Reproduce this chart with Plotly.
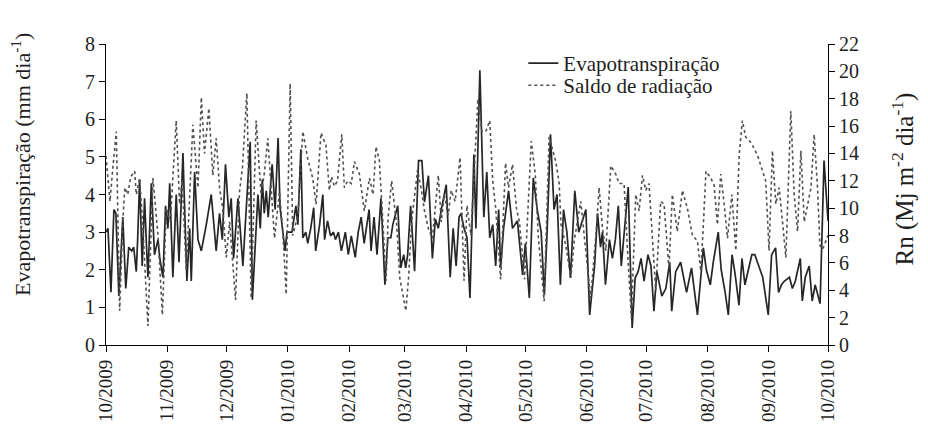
import pandas as pd
import plotly.graph_objects as go

# ---- data (day offsets from 01/10/2009) ----
inicio = "2009-10-01"

dias_et = [0, 1, 2.5, 4, 5, 6.5, 8.5, 10, 11.5, 13, 14, 15.3, 16, 17, 18.3, 19.5, 20.5, 21.2, 22.9, 24.5,
           26.3, 27.2, 28.8, 30.1, 31.3, 32.2, 33.8, 35.5, 36.9, 38.9, 40.9, 42.3, 43.1, 44.8, 46.5, 48.2,
           50.7, 53.2, 55.7, 57.4, 58.8, 60.4, 62.1, 63.3, 64.5, 66.7, 69.2, 71.2, 72.9, 74,
           76.8, 78, 79, 80, 81, 82, 84, 85.5, 87, 88, 90.5, 91.5, 94, 96, 97, 98.5, 99.5, 101, 102,
           103.5, 105, 106, 108, 109.6, 110.5, 112, 113.5, 115, 116, 117.5, 119, 121, 122.5, 124, 126,
           127.5, 129, 130.5, 133, 134, 135.5, 137, 139, 141, 142.5, 144,
           145, 147.5, 149, 150.5, 151.5, 152.5, 154, 156, 158, 159.7, 161, 163, 165, 166.5, 168, 169.5,
           172, 174, 175.5, 177, 178.5, 179.5, 181, 182.5, 184, 186, 187, 189, 191, 192.5, 194, 195.5,
           197, 198.5, 199.5, 201, 203.5, 205.5, 208, 210.6, 212, 214, 216, 218,
           220, 221.6, 223, 224.7, 226.5, 228, 229.7, 231.3, 233, 234.8, 237, 239, 240.8, 242.6, 244.5,
           246, 247, 248.5, 250, 251, 252.5, 254.5, 256, 257.5, 259, 260.5, 262, 264, 266, 267.5, 269,
           270.5, 272, 274, 275.5, 277, 278.5, 281, 283, 285, 286, 288, 290.5,
           293.5, 296, 298, 299, 302, 303.5, 305.5, 307, 309.5, 311, 313, 314.6, 316.5, 318, 320, 321.5,
           323, 325, 326.5, 328, 330.5, 332, 334.8, 336.5, 338.5, 340, 341.5, 343, 345.5, 347, 348.5,
           351, 352, 353.5, 355.5, 357, 358.5, 361, 363, 365]
et = [3.0, 3.1, 1.4, 3.6, 3.5, 1.3, 3.4, 1.5, 2.6, 2.5, 2.6, 1.95, 2.8, 4.4, 2.1, 3.9, 2.6, 1.8, 4.3, 2.4,
      2.8, 2.3, 1.8, 3.7, 3.1, 4.3, 1.8, 4.0, 2.2, 5.1, 1.7, 3.1, 1.7, 4.6, 2.8, 2.5,
      3.2, 4.0, 2.5, 3.5, 2.8, 4.8, 3.4, 3.9, 2.3, 3.9, 2.1, 3.9, 5.4, 1.2,
      4.0, 3.1, 4.4, 3.5, 4.1, 3.4, 4.8, 3.6, 5.5, 3.65, 2.5, 3.0, 3.0, 3.7, 3.2, 5.2, 2.85, 3.0, 2.7,
      3.1, 3.65, 2.5, 3.2, 4.0, 2.8, 3.3, 2.9, 3.0, 2.8, 3.0, 2.5, 3.0, 2.4, 2.9, 2.33,
      3.0, 3.4, 2.7, 3.6, 2.5, 3.4, 2.4, 3.9, 1.6, 2.85, 2.85,
      3.2, 3.7, 2.05, 2.4, 2.05, 2.4, 3.7, 1.96, 4.9, 4.9, 3.8, 4.5, 2.3, 3.35, 3.1, 3.6,
      4.26, 1.8, 3.1, 2.1, 3.4, 3.5, 3.1, 2.85, 1.25, 5.06, 3.1, 7.3, 3.4, 4.6, 2.85, 3.2,
      2.1, 3.6, 2.05, 3.1, 4.1, 3.1, 3.3, 1.86, 2.7, 1.25, 4.44, 3.6,
      3.0, 1.33, 3.0, 5.6, 3.6, 4.0, 1.6, 3.6, 3.0, 1.78, 4.1, 3.0, 3.3, 3.6, 0.8,
      1.7, 2.1, 3.5, 2.6, 3.0, 1.6, 2.8, 2.3, 2.8, 3.7, 2.1, 3.0, 4.2, 0.45, 1.78, 1.95,
      2.3, 1.7, 2.4, 2.1, 0.9, 1.95, 1.3, 1.5, 2.2, 0.9, 1.95, 2.2,
      1.4, 2.05, 1.17, 0.8, 2.58, 2.0, 1.6, 2.2, 3.0, 2.0, 1.4, 0.8, 2.4, 1.9, 1.06, 2.3,
      1.6, 2.1, 2.4, 2.4, 2.0, 1.8, 0.8, 2.4, 2.58, 1.4, 1.6, 1.7, 1.8, 1.5, 1.7,
      2.3, 1.17, 1.8, 2.1, 1.17, 1.6, 1.1, 4.9, 3.3]

dias_rn = [0, 1, 2, 3.5, 5.2, 6.9, 8.5, 9.5, 11, 12.5, 14.5, 15.3, 17, 18.5, 21.2, 23.7, 26.3, 28.5, 30.5,
           32.5, 35.5, 37.2, 38.5, 40.6, 43.9, 46.5, 48.2, 49.8, 52, 54, 55.7, 57.4, 59, 60.8, 62.5,
           65.5, 67.5, 69, 71.2, 73.4,
           75.9, 78.4, 80, 81.8, 83.5, 85.2, 87.7, 89.5, 91.1, 93.1, 94.4, 97, 99.5, 102, 104.5, 106.2,
           108.7, 111.2, 112.9, 114, 115.5, 117, 119.2, 120.5, 122.2, 124, 125.6, 127, 128.1, 130.6,
           133.2, 135, 136.5, 138.2, 140, 141.6, 142.6, 144.4,
           147, 148.5, 151.6, 153, 154.5, 157.5, 159.5, 161, 163, 165, 168, 169.5, 171, 173, 174.5,
           176.5, 179, 181, 182.5, 184.5, 188, 190, 192, 194, 195.5, 197, 199.5, 202, 203.5, 205.5,
           207.5, 209, 211.6, 215, 217, 218.5, 221.5, 224,
           227.4, 229.1, 230, 232.4, 235, 236.7, 240, 243.4, 245, 247.6, 249.3, 251, 252.7, 255.2,
           257.7, 259.4, 261.9, 264, 265.6, 267.8, 269.5, 271.2, 272.9, 274.5, 276.2, 277.9, 280.4,
           282.1, 284.6, 286.3, 288.8, 291.4,
           293.9, 296.5, 299, 300.7, 301.9, 303.3, 305.7, 307.4, 309.1, 310.8, 312.5, 314.2, 316.4,
           318.4, 320.1, 321.7, 323.4, 326, 329.3, 331.8, 333.5, 335.2, 336.9, 338.6, 340.3, 342,
           343.7, 346.2, 347.9, 349.6, 351.3, 353, 354.7, 356.4, 358, 359.7, 360.9, 362.3, 365]
rn = [13.8, 12, 10.5, 13, 15.6, 2.5, 9, 11.5, 11, 12.3, 12.7, 11, 12.2, 9, 1.4, 12.2, 8, 2.2, 10,
      9, 16.4, 10.3, 12, 5.4, 16.1, 11.5, 18.1, 14, 17.3, 12.4, 15.1, 11.5, 10, 6.4, 9,
      3.3, 11.2, 13, 18.4, 3.4,
      16.4, 11, 12.5, 15.1, 11, 7.8, 11.2, 8, 3.7, 19.1, 8, 9.5, 15.6, 13.6, 12.2, 10.3,
      15.5, 14.6, 11.3, 12.3, 11.6, 12, 15.4, 11.5, 12, 11.8, 13.4, 12.8, 12.5, 9.8,
      12.2, 11, 14.5, 13.5, 9, 4.7, 9.3, 12,
      8.7, 4.9, 2.5, 5, 9, 12.8, 11.3, 9.8, 8.5, 7.8, 12.4, 9, 11, 9.5, 11.3,
      10.5, 13.7, 4.7, 10.2, 8, 18, 15.6, 15.6, 16.4, 12, 10, 4.8, 13.3, 11.5, 13.2,
      10, 9, 4.8, 14.9, 12.5, 8, 3.2, 15.2,
      13.4, 11.8, 8.8, 7.3, 4.9, 7.6, 10.5, 5.4, 3.4, 7.9, 11.5, 8.5, 6.9, 13.1,
      12.5, 11.8, 11.8, 6, 2, 11, 9.8, 12.4, 11.3, 11.8, 7.8, 4, 10.5,
      10.3, 5.6, 11, 8.3, 11.3,
      10, 8, 7.6, 5.4, 8.5, 12.7, 12.2, 11.7, 8.8, 12.5, 10.3, 7.8, 11,
      6.9, 13.9, 16.4, 15.2, 14.8, 13.9, 12.7, 12, 6.9, 14.2, 10.3, 11.5, 9,
      6.4, 17.1, 11, 8.3, 14.2, 9, 10.3, 11.5, 15.4, 11.5, 7.3, 7, 8]

meses = ["2009-10-01", "2009-11-01", "2009-12-01", "2010-01-01", "2010-02-01", "2010-03-01",
         "2010-04-01", "2010-05-01", "2010-06-01", "2010-07-01", "2010-08-01", "2010-09-01",
         "2010-10-01"]
rotulos = ["10/2009", "11/2009", "12/2009", "01/2010", "02/2010", "03/2010", "04/2010",
           "05/2010", "06/2010", "07/2010", "08/2010", "09/2010", "10/2010"]

base = pd.Timestamp(inicio)
x_et = [base + pd.to_timedelta(d, unit="D") for d in dias_et]
x_rn = [base + pd.to_timedelta(d, unit="D") for d in dias_rn]

FONT = "Liberation Serif"
TXT = "#1e1e1e"

fig = go.Figure()
fig.add_trace(go.Scatter(x=x_et, y=et, name="Evapotranspiração", mode="lines", legend="legend",
                         line=dict(color="#262626", width=1.7)))
fig.add_trace(go.Scatter(x=x_rn, y=rn, name="Saldo de radiação", mode="lines", yaxis="y2",
                         legend="legend2",
                         line=dict(color="#505050", width=1.6, dash="dot")))

def axis_common(size):
    return dict(showline=True, linecolor="black", linewidth=1.2, ticks="outside",
                ticklen=6, tickcolor="black", tickwidth=1.2, showgrid=False, zeroline=False,
                tickfont=dict(family=FONT, size=size, color=TXT))

legend_common = dict(xanchor="left", yanchor="middle", bgcolor="rgba(0,0,0,0)",
                     font=dict(family=FONT, size=21, color=TXT), itemwidth=30)

fig.update_layout(
    width=928, height=447,
    margin=dict(l=98, r=108, t=36, b=110),
    paper_bgcolor="white", plot_bgcolor="white",
    font=dict(family=FONT, color=TXT),
    showlegend=True,
    legend=dict(x=0.578, y=0.935, **legend_common),
    legend2=dict(x=0.578, y=0.862, **legend_common),
    xaxis=dict(type="date", range=[meses[0], meses[-1]], tickvals=meses, ticktext=rotulos,
               tickangle=-90, **axis_common(19)),
    yaxis=dict(range=[0, 8], dtick=1, **axis_common(20)),
    yaxis2=dict(range=[0, 22], dtick=2, overlaying="y", side="right", **axis_common(20)),
    annotations=[
        dict(text="Evapotranspiração (mm dia<sup>-1</sup>)", xref="paper", yref="paper",
             x=-0.117, y=0.6, textangle=-90, showarrow=False, xanchor="center", yanchor="middle",
             font=dict(family=FONT, size=22, color=TXT)),
        dict(text="Rn (Mj m<sup>-2</sup> dia<sup>-1</sup>)", xref="paper", yref="paper",
             x=1.104, y=0.55, textangle=-90, showarrow=False, xanchor="center", yanchor="middle",
             font=dict(family=FONT, size=25, color=TXT)),
    ],
)

fig.write_html("out.html")
